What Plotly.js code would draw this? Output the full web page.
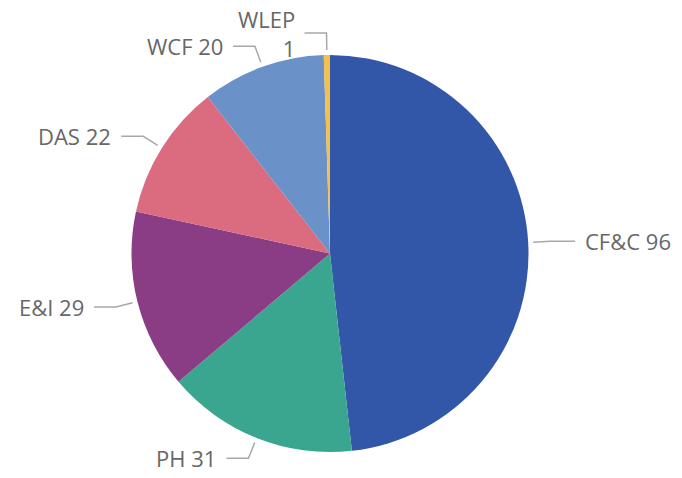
<!DOCTYPE html>
<html>
<head>
<meta charset="utf-8">
<script src="https://cdn.plot.ly/plotly-3.0.1.min.js"></script>
<style>
  html, body { margin: 0; padding: 0; background: #fff; }
  #pie { width: 682px; height: 478px; }
</style>
</head>
<body>
<div id="pie"></div>
<script>
// data
var labels = ["CF&C", "PH", "E&I", "DAS", "WCF", "WLEP"];
var values = [96, 31, 29, 22, 20, 1];
var colors = ["#3256a8", "#3aa68f", "#8a3c85", "#db6b7e", "#6a92c8", "#f5c04a"];

// page / pie geometry in pixels
var W = 682, H = 478;
var cx = 330, cy = 253.5, r = 198.5;
var gap = 5, len1 = 22, len2 = 22;

function px(x) { return x / W; }
function py(y) { return 1 - y / H; }

var total = values.reduce((a, b) => a + b, 0);

// leader lines + labels, placed from each slice's mid angle
var shapes = [];
var annotations = [];
var cum = 0;
values.forEach(function (v, i) {
  var mid = (cum + v / 2) / total * 2 * Math.PI;
  cum += v;
  var s = Math.sin(mid), c = Math.cos(mid);
  var x0 = cx + (r + gap) * s, y0 = cy - (r + gap) * c;
  var x1 = cx + (r + len1) * s, y1 = cy - (r + len1) * c;
  var right = s >= 0;
  var x2 = x1 + (right ? len2 + 3 * s * s : -len2);
  shapes.push({
    type: "path", xref: "paper", yref: "paper",
    path: "M" + px(x0) + "," + py(y0) + " L" + px(x1) + "," + py(y1) + " L" + px(x2) + "," + py(y1),
    line: { color: "#a8a8a8", width: 1.5 }
  });
  // a very thin slice gets its value on a second line
  var small = v / total < 0.02;
  annotations.push({
    xref: "paper", yref: "paper",
    x: px(x2 + (right ? 8 : -8)),
    y: py(y1),
    xanchor: right ? "left" : "right",
    yanchor: "middle",
    align: right ? "left" : "right",
    text: small ? labels[i] + "<br>" + v : labels[i] + " " + v,
    showarrow: false,
    font: { family: "Open Sans, sans-serif", size: 22, color: "#676767" }
  });
});

var trace = {
  type: "pie",
  labels: labels,
  values: values,
  sort: false,
  direction: "clockwise",
  rotation: 0,
  textinfo: "none",
  hoverinfo: "label+value",
  marker: { colors: colors, line: { width: 0 } },
  domain: { x: [px(cx - r), px(cx + r)], y: [py(cy + r), py(cy - r)] }
};

var layout = {
  width: W,
  height: H,
  margin: { l: 0, r: 0, t: 0, b: 0 },
  showlegend: false,
  paper_bgcolor: "#fff",
  shapes: shapes,
  annotations: annotations
};

Plotly.newPlot("pie", [trace], layout, { displayModeBar: false, staticPlot: true });
</script>
</body>
</html>
